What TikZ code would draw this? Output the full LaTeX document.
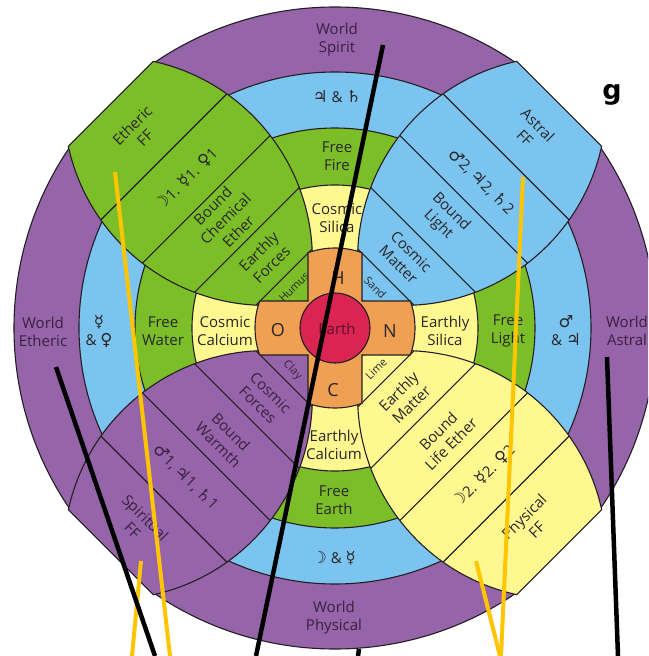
\documentclass[tikz,border=0pt]{standalone}
\usepackage{fontspec}
\setmainfont{Open Sans}
\newfontfamily\symf{DejaVu Sans}[Scale=1.1]
\newfontfamily\gfont{DejaVu Sans}
\definecolor{cpurple}{RGB}{150,100,168}
\definecolor{cblue}{RGB}{124,196,240}
\definecolor{cgreen}{RGB}{124,190,40}
\definecolor{cyellow}{RGB}{255,248,145}
\definecolor{corange}{RGB}{240,160,82}
\definecolor{cred}{RGB}{218,36,82}
\definecolor{txt}{RGB}{40,38,40}
\definecolor{ptxt}{RGB}{58,32,66}
\definecolor{etxt}{RGB}{90,20,40}
\definecolor{bdc}{RGB}{35,30,35}
\definecolor{gold}{RGB}{255,198,0}
\def\lenspath{(38.2,0) arc[start angle=-146.9, end angle=-57.4, radius=202.6pt] -- (317.1,60.1) arc[start angle=57.4, end angle=146.9, radius=202.6pt] -- cycle}
\def\crosspath{(27,27) -- (75.31,27) arc[start angle=19.72, end angle=-19.72, radius=80pt] -- (27,-27) -- (27,-75.31) arc[start angle=-70.28, end angle=-109.72, radius=80pt] -- (-27,-27) -- (-75.31,-27) arc[start angle=199.72, end angle=160.28, radius=80pt] -- (-27,27) -- (-27,75.31) arc[start angle=109.72, end angle=70.28, radius=80pt] -- cycle}
\begin{document}
\begin{tikzpicture}[x=1pt,y=1pt,
  bd/.style={draw=bdc, line width=1.1pt},
  lbl/.style={font=\fontsize{15}{18}\selectfont, text=txt, align=center, inner sep=0pt},
  plbl/.style={lbl, text=ptxt},
  tiny/.style={font=\fontsize{11}{13}\selectfont, text=txt, inner sep=0pt},
  letter/.style={font=\fontsize{18}{18}\selectfont, text=txt, inner sep=0pt},
  blk/.style={line width=4.5pt, draw=black},
  gld/.style={line width=4pt, draw=gold}]
\clip (-335,-328) rectangle (313,328);
\fill[white] (-335,-328) rectangle (313,328);
% outer ring
\begin{scope}
  \clip (448.3,0) -- (0,448.3) -- (-448.3,0) -- (0,-448.3) -- cycle;
  \fill[cpurple] (0,0) circle[radius=321pt];
  \draw[bd] (0,0) circle[radius=321pt];
\end{scope}
\fill[cblue] (0,0) circle[radius=256pt];
\fill[cgreen] (0,0) circle[radius=200pt];
\fill[cyellow] (0,0) circle[radius=143pt];
\foreach \r in {256,200,143} \draw[bd] (0,0) circle[radius=\r pt];
% leaves
\foreach \a/\c in {135/cgreen, 45/cblue, -45/cyellow, -135/cpurple}{
  \begin{scope}[rotate=\a]
    \fill[\c] \lenspath;
    \begin{scope}
      \clip \lenspath;
      \foreach \d in {72,124.5,182,242} \draw[bd] (\d,-130) -- (\d,130);
    \end{scope}
    \draw[bd] \lenspath;
  \end{scope}
}
% small labels (partly under the cross)
\node[tiny, rotate=45] (hum) at (135:58) {Humus};
\node[tiny, rotate=-45] (snd) at (45:57) {Sand};
\node[tiny, rotate=45] (lim) at (-45:58) {Lime};
\node[tiny, text=ptxt, rotate=-45] (cly) at (-135:60) {Clay};
% cross and earth
\fill[corange] \crosspath;
\draw[bd] \crosspath;
\fill[cred] (0,0) circle[radius=35pt];
\draw[bd] (0,0) circle[radius=35pt];
% leaf labels
\node[lbl, rotate=45] (eff) at (135:278) {Etheric\\FF};
\node[lbl, rotate=45] (gpl) at (135:210) {{\symf ☽}1. {\symf ☿}1. {\symf ♀}1};
\node[lbl, rotate=45] (bce) at (135:155) {Bound\\Chemical\\Ether};
\node[lbl, rotate=45] (efo) at (135:99) {Earthly\\Forces};
\node[lbl, rotate=-45] (aff) at (45:278) {Astral\\FF};
\node[lbl, rotate=-45] (bpl) at (45:207) {{\symf ♂}2, {\symf ♃}2, {\symf ♄}2};
\node[lbl, rotate=-45] (bli) at (45:155) {Bound\\Light};
\node[lbl, rotate=-45] (cma) at (45:99) {Cosmic\\Matter};
\node[lbl, rotate=45] (pff) at (-45:276) {Physical\\FF};
\node[lbl, rotate=45] (ypl) at (-45:210) {{\symf ☽}2. {\symf ☿}2. {\symf ♀}2};
\node[lbl, rotate=45] (ble) at (-45:155) {Bound\\Life Ether};
\node[lbl, rotate=45] (ema) at (-45:99) {Earthly\\Matter};
\node[plbl, rotate=-45] (sff) at (-135:277) {Spiritual\\FF};
\node[plbl, rotate=-45] (ppl) at (-135:211) {{\symf ♂}1, {\symf ♃}1, {\symf ♄}1};
\node[plbl, rotate=-45] (bwa) at (-135:156) {Bound\\Warmth};
\node[plbl, rotate=-45] (cfo) at (-135:100) {Cosmic\\Forces};
% ring labels
\node[plbl] (wsp) at (2,288) {World\\Spirit};
\node[lbl] (jsa) at (2,231) {{\symf ♃} \& {\symf ♄}};
\node[lbl] (ffi) at (2,172) {Free\\Fire};
\node[lbl] (csi) at (2,110) {Cosmic\\Silica};
\node[letter] (hh) at (3,50) {H};
\node[plbl] (wet) at (-292,-4) {World\\Etheric};
\node[lbl] (msv) at (-236,-3) {{\symf ☿}\\\& {\symf ♀}};
\node[lbl] (fwa) at (-172,-3) {Free\\Water};
\node[lbl] (cca) at (-110,-3) {Cosmic\\Calcium};
\node[letter] (oo) at (-57,-2) {O};
\node[font=\fontsize{15}{15}\selectfont, text=etxt, inner sep=0pt] (ear) at (2,-1) {Earth};
\node[letter] (nn) at (55,-3) {N};
\node[lbl] (esi) at (110,-3) {Earthly\\Silica};
\node[lbl] (fli) at (173,-3) {Free\\Light};
\node[lbl] (mju) at (231,-3) {{\symf ♂}\\\& {\symf ♃}};
\node[plbl] (was) at (292,-3) {World\\Astral};
\node[letter] (cc) at (-2,-62) {C};
\node[lbl] (eca) at (-1,-117) {Earthly\\Calcium};
\node[lbl] (fea) at (-1,-172) {Free\\Earth};
\node[lbl] (mme) at (-1,-230) {{\symf ☽} \& {\symf ☿}};
\node[plbl] (wph) at (-1,-290) {World\\Physical};
% stray label
\node[font=\gfont\bfseries\fontsize{27}{27}\selectfont, text=black, anchor=base, inner sep=0pt] (gg) at (277,228) {g};
% overlay lines
\coordinate (b1a) at (48,283);   \coordinate (b1b) at (-79,-328);
\coordinate (b2a) at (-279,-39); \coordinate (b2b) at (-180,-328);
\coordinate (b3a) at (272,-29);  \coordinate (b3b) at (283,-328);
\coordinate (b4a) at (24,-321);  \coordinate (b4b) at (23,-328);
\coordinate (y1a) at (-220,156); \coordinate (y1b) at (-165,-328);
\coordinate (y2a) at (-194,-233);\coordinate (y2b) at (-203,-328);
\coordinate (y3a) at (188,151);  \coordinate (y3b) at (166,-328);
\coordinate (y4a) at (141,-233); \coordinate (y4b) at (165,-328);
\draw[gld] (y1a) -- (y1b);
\draw[gld] (y2a) -- (y2b);
\draw[gld] (y3a) -- (y3b);
\draw[gld] (y4a) -- (y4b);
\draw[blk] (b1a) -- (b1b);
\draw[blk] (b2a) -- (b2b);
\draw[blk] (b3a) -- (b3b);
\draw[blk] (b4a) -- (b4b);
\end{tikzpicture}
\end{document}
